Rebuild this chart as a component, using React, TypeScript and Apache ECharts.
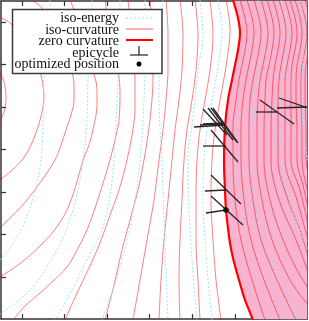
import React, { useEffect, useRef } from "react";
import * as echarts from "echarts";

// Axis ranges (x to the right, y downward as in the figure)
const X_RANGE = [1, 307];
const Y_RANGE = [1, 319];
const xTicks = [22, 64, 107, 149, 192, 235, 277];
const yTicks = [22, 64, 107, 149, 192, 234, 277];

// iso-curvature contours (white region)
const isoCurvA = [[0, 72], [4, 82], [6, 97], [5, 108], [2, 117], [0, 121]];
const isoCurvB = [[0, 17], [10, 23], [22, 35], [32, 50], [38, 65], [42, 80], [44, 97], [42, 112], [38, 127], [31, 145], [22, 160], [11, 171], [0, 180]];
const isoCurvC = [[32, 0], [42, 8], [54, 25], [63, 45], [70, 65], [74, 85], [74, 100], [71, 115], [67, 127], [61, 145], [55, 160], [42, 180], [27, 200], [13, 215], [0, 228]];
const isoCurvD = [[70, 0], [78, 20], [86, 45], [93, 70], [97, 90], [97, 105], [94, 125], [89, 145], [83, 160], [76, 185], [67, 210], [56, 228], [43, 243], [22, 262], [0, 277]];
const isoCurvE = [[105, 0], [110, 30], [116, 60], [120, 90], [119, 120], [115, 140], [110, 160], [104, 180], [96, 205], [87, 230], [76, 252], [67, 267], [52, 282], [40, 293], [25, 306], [13, 320]];
const isoCurvF = [[128, 0], [132, 40], [135, 80], [135, 110], [132, 135], [127, 160], [119, 190], [110, 215], [100, 243], [88, 270], [77, 293], [65, 320]];
const isoCurvG = [[150, 0], [152, 40], [153, 80], [151, 110], [148, 135], [144, 160], [138, 190], [130, 220], [122, 250], [114, 285], [105, 320]];
const isoCurvH = [[166, 0], [168, 35], [168, 70], [166, 100], [163, 130], [159, 160], [154, 200], [147, 240], [140, 280], [133, 320]];
const isoCurvI = [[180, 0], [183, 35], [182, 70], [179, 100], [175, 130], [172, 160], [168, 200], [164, 240], [161, 280], [159, 320]];
const isoCurvJ = [[195, 0], [198, 35], [196, 70], [192, 100], [187, 130], [184, 160], [182, 200], [180, 240], [179, 280], [180, 320]];
const isoCurvK = [[210, 0], [213, 35], [210, 70], [205, 100], [200, 130], [197, 160], [196, 200], [196, 240], [198, 280], [200, 320]];
const isoCurvL = [[226, 0], [230, 30], [227, 60], [221, 95], [215, 130], [212, 160], [211, 200], [213, 240], [216, 280], [221, 320]];

// iso-curvature contours (pink region)
const isoCurvP1 = [[240, 0], [245, 18], [247, 33], [245, 50], [242, 65], [239, 80], [236, 100], [233, 127], [233, 160], [235, 200], [241, 240], [252, 280], [265, 320]];
const isoCurvP2 = [[247, 0], [252, 18], [254, 33], [252, 50], [249, 65], [246, 80], [243, 100], [241, 127], [241, 160], [244, 200], [251, 240], [264, 280], [280, 320]];
const isoCurvP3 = [[254, 0], [259, 18], [261, 33], [259, 50], [256, 65], [253, 80], [250, 100], [249, 127], [249, 160], [253, 200], [261, 240], [277, 280], [296, 320]];
const isoCurvP4 = [[261, 0], [266, 18], [268, 33], [266, 50], [263, 65], [260, 80], [258, 100], [257, 127], [257, 160], [262, 200], [272, 240], [290, 280], [308, 305]];
const isoCurvP5 = [[267, 0], [272, 18], [274, 33], [272, 50], [269, 65], [266, 80], [265, 100], [264, 127], [264, 160], [270, 200], [283, 240], [297, 270], [308, 288]];
const isoCurvP6 = [[273, 0], [278, 18], [280, 33], [278, 50], [275, 65], [273, 80], [272, 100], [271, 127], [271, 160], [279, 200], [296, 240], [308, 272]];
const isoCurvP7 = [[279, 0], [284, 18], [286, 33], [284, 50], [281, 65], [279, 80], [278, 100], [278, 127], [278, 160], [288, 200], [300, 230], [308, 256]];
const isoCurvP8 = [[285, 0], [290, 18], [292, 33], [290, 50], [287, 65], [285, 80], [285, 100], [285, 127], [285, 160], [297, 200], [308, 240]];
const isoCurvP9 = [[290, 0], [295, 18], [297, 33], [295, 50], [292, 65], [291, 80], [291, 100], [291, 127], [291, 160], [300, 190], [308, 224]];
const isoCurvP10 = [[295, 0], [300, 18], [302, 33], [300, 50], [297, 65], [296, 80], [296, 100], [297, 127], [297, 160], [303, 185], [308, 208]];
const isoCurvP11 = [[300, 0], [305, 18], [307, 33], [305, 50], [302, 65], [301, 80], [301, 100], [302, 127], [302, 160], [308, 192]];
const isoCurvP12 = [[305, 0], [310, 18], [311, 33], [309, 50], [306, 65], [305, 80], [305, 100], [306, 127], [306, 160], [309, 176]];

// zero curvature line
const zeroCurvature = [[233, 0], [238, 18], [240, 33], [238, 50], [235, 65], [232, 80], [228, 100], [225, 127], [224, 160], [225, 190], [226, 210], [228, 228], [230, 243], [233, 258], [237, 273], [241, 287], [245, 300], [249, 310], [253, 320]];

// iso-energy contours
const isoEnergy1 = [[50, 0], [47, 40], [44, 77], [43, 120], [41, 160], [34, 195], [22, 228], [10, 248], [0, 260]];
const isoEnergy2 = [[92, 0], [90, 40], [88, 80], [87, 120], [83, 160], [78, 190], [72, 213], [62, 240], [48, 265], [33, 287], [15, 303], [0, 314]];
const isoEnergy3 = [[120, 0], [119, 50], [117, 100], [114, 160], [110, 195], [103, 227], [95, 245], [87, 260], [72, 290], [55, 320]];
const isoEnergy4 = [[145, 0], [145, 60], [143, 120], [140, 160], [135, 200], [127, 240], [116, 280], [102, 320]];
const isoEnergy5 = [[163, 0], [160, 50], [159, 100], [162, 160], [164, 220], [166, 270], [168, 320]];
const isoEnergy6 = [[200, 0], [203, 35], [198, 70], [194, 110], [188, 160], [189, 210], [192, 260], [197, 320]];
const isoEnergy7 = [[218, 0], [222, 30], [219, 60], [213, 95], [207, 130], [204, 160], [203, 200], [205, 240], [208, 280], [212, 320]];
const isoEnergy8 = [[258, 0], [263, 20], [264, 35], [261, 60], [256, 85], [253, 110], [251, 140], [251, 170], [255, 205], [263, 240], [277, 275], [294, 310], [300, 320]];
const isoEnergy9 = [[281, 0], [286, 20], [288, 35], [285, 60], [281, 90], [280, 120], [281, 150], [285, 180], [294, 215], [308, 250]];
const isoEnergy10 = [[300, 0], [305, 30], [302, 80], [303, 130], [308, 160]];

// epicycles: [x1, y1, x2, y2]
const epicycleBars = [
  [194, 127, 225, 125], [200, 125, 224, 124], [203, 124, 224, 123],
  [203, 146, 226, 146], [205, 191, 226, 190], [206, 213, 226, 210],
  [256, 112, 278, 112], [277, 108, 307, 107],
];
const epicycleTilts = [
  [203, 109, 227, 135], [208, 108, 233, 140], [211, 108, 237, 142], [213, 108, 238, 143],
  [211, 130, 238, 162], [211, 175, 241, 204], [211, 196, 243, 225],
  [260, 100, 294, 124], [279, 98, 308, 108],
];
const optimizedPosition = [[226, 210]];

const legendLabels = ["iso-energy", "iso-curvature", "zero curvature", "epicycle", "optimized position"];

const PINK = "#f7b3d0";
const ISO_RED = "rgba(255,0,0,0.5)";
const CYAN = "#9fe4ee";
const FRAME = "#333";

export default function App() {
  const ref = useRef<HTMLDivElement>(null);
  useEffect(() => {
    document.body.style.margin = "0";
    const chart = echarts.init(ref.current!, null, { renderer: "svg" });

    const isoCurv = [isoCurvA, isoCurvB, isoCurvC, isoCurvD, isoCurvE, isoCurvF, isoCurvG, isoCurvH, isoCurvI, isoCurvJ, isoCurvK, isoCurvL,
      isoCurvP1, isoCurvP2, isoCurvP3, isoCurvP4, isoCurvP5, isoCurvP6, isoCurvP7, isoCurvP8, isoCurvP9, isoCurvP10, isoCurvP11, isoCurvP12];
    const isoE = [isoEnergy1, isoEnergy2, isoEnergy3, isoEnergy4, isoEnergy5, isoEnergy6, isoEnergy7, isoEnergy8, isoEnergy9, isoEnergy10];

    const lineSeries = (data: number[][], color: string, width: number, type: any, z: number) => ({
      type: "line",
      data,
      xAxisIndex: 0,
      yAxisIndex: 0,
      showSymbol: false,
      symbol: "none",
      smooth: 0.35,
      clip: true,
      silent: true,
      z,
      lineStyle: { color, width, type },
    });

    const axisCommon = (pos: string, ticks: number[], range: number[], inverse: boolean) => ({
      type: "value",
      position: pos,
      min: range[0],
      max: range[1],
      inverse,
      axisLine: { show: true, onZero: false, lineStyle: { color: FRAME, width: 1.5 } },
      axisTick: { show: true, inside: true, length: 5, customValues: ticks, lineStyle: { color: FRAME, width: 1.2 } },
      axisLabel: { show: false },
      splitLine: { show: false },
    });

    const lx = 126, lx2 = 153;
    const rows = [17, 29, 40.5, 52, 63.5];
    const graphic: any[] = [
      { type: "rect", shape: { x: 12.5, y: 9.5, width: 149.5, height: 64 }, style: { fill: "#fff", stroke: "#3a3a3a", lineWidth: 1.5 }, z: 100 },
      ...legendLabels.map((t, i) => ({
        type: "text", x: 119, y: rows[i], z: 101,
        style: { text: t, align: "right", verticalAlign: "middle", lineHeight: 11, font: "14px 'Liberation Serif', 'DejaVu Serif', serif", fill: "#111" },
      })),
      { type: "line", shape: { x1: lx, y1: 18, x2: lx2, y2: 18 }, style: { stroke: CYAN, lineWidth: 1.2, lineDash: [2, 2] }, z: 101 },
      { type: "line", shape: { x1: lx, y1: 29, x2: lx2, y2: 29 }, style: { stroke: ISO_RED, lineWidth: 1.2 }, z: 101 },
      { type: "line", shape: { x1: lx, y1: 40, x2: lx2, y2: 40 }, style: { stroke: "#ff0000", lineWidth: 2 }, z: 101 },
      { type: "line", shape: { x1: 130, y1: 55, x2: 148, y2: 55 }, style: { stroke: "#222", lineWidth: 1.2 }, z: 101 },
      { type: "line", shape: { x1: 139, y1: 46, x2: 139, y2: 55 }, style: { stroke: "#222", lineWidth: 1.2 }, z: 101 },
      { type: "circle", shape: { cx: 139, cy: 64, r: 2.5 }, style: { fill: "#000" }, z: 101 },
    ];

    const option: any = {
      animation: false,
      grid: { left: 1, right: 2, top: 1, bottom: 2, containLabel: false },
      xAxis: [axisCommon("bottom", xTicks, X_RANGE, false), axisCommon("top", xTicks, X_RANGE, false)],
      yAxis: [axisCommon("left", yTicks, Y_RANGE, true), axisCommon("right", yTicks, Y_RANGE, true)],
      series: [
        {
          type: "custom",
          xAxisIndex: 0,
          yAxisIndex: 0,
          silent: true,
          clip: true,
          z: 1,
          data: [[233, 160]],
          renderItem: (_p: any, api: any) => {
            const pts = zeroCurvature.map((p) => api.coord(p));
            pts.push(api.coord([312, 322]));
            pts.push(api.coord([312, -2]));
            pts.push(api.coord([233, -2]));
            return { type: "polygon", shape: { points: pts }, style: { fill: PINK } };
          },
        },
        ...isoCurv.map((d) => lineSeries(d, ISO_RED, 1, "solid", 2)),
        ...isoE.map((d) => lineSeries(d, CYAN, 1, [2, 2], 3)),
        lineSeries(zeroCurvature, "#ff0000", 2.2, "solid", 4),
        {
          type: "custom",
          xAxisIndex: 0,
          yAxisIndex: 0,
          silent: true,
          clip: true,
          z: 5,
          data: [...epicycleBars, ...epicycleTilts],
          renderItem: (_p: any, api: any) => {
            const a = api.coord([api.value(0), api.value(1)]);
            const b = api.coord([api.value(2), api.value(3)]);
            return { type: "line", shape: { x1: a[0], y1: a[1], x2: b[0], y2: b[1] }, style: { stroke: "#262626", lineWidth: 1.3 } };
          },
        },
        {
          type: "scatter",
          xAxisIndex: 0,
          yAxisIndex: 0,
          data: optimizedPosition,
          symbol: "circle",
          symbolSize: 6,
          itemStyle: { color: "#000" },
          silent: true,
          z: 6,
        },
      ],
      graphic,
    };
    chart.setOption(option);
    return () => chart.dispose();
  }, []);
  return <div ref={ref} style={{ position: "fixed", left: 0, top: 0, width: 309, height: 321 }} />;
}
